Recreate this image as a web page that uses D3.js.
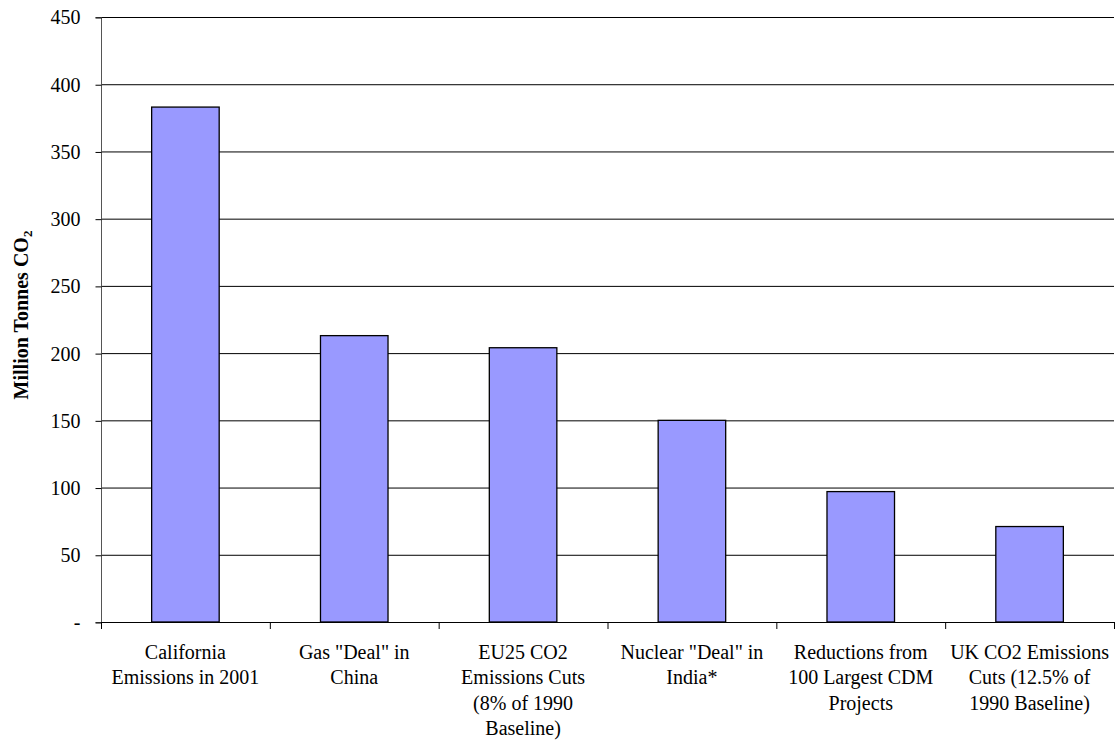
<!DOCTYPE html>
<html><head><meta charset="utf-8">
<script src="https://cdn.jsdelivr.net/npm/d3@7"></script>
<style>body{margin:0;background:#fff}</style>
</head><body><svg id="c" width="1119" height="740"></svg>
<script>
const categories = [
  ["California","Emissions in 2001"],
  ["Gas \"Deal\" in","China"],
  ["EU25 CO2","Emissions Cuts","(8% of 1990","Baseline)"],
  ["Nuclear \"Deal\" in","India*"],
  ["Reductions from","100 Largest CDM","Projects"],
  ["UK CO2 Emissions","Cuts (12.5% of","1990 Baseline)"]
];
const values = [383, 213, 204, 150, 97, 71];
const yTicks = [0,50,100,150,200,250,300,350,400,450];

const FONT = "'Liberation Serif', 'Times New Roman', Tinos, serif";
const svg = d3.select("#c");
const L=101, R=1114, T=17, B=622;
const x = d3.scaleBand().domain(d3.range(categories.length)).range([L,R]).paddingInner(0.6).paddingOuter(0.3);
const xb = d3.scaleBand().domain(d3.range(categories.length)).range([L,R]);
const y = d3.scaleLinear().domain([0,450]).range([B,T]);

// gridlines
svg.append("g").selectAll("line").data(yTicks.filter(d=>d>0)).join("line")
  .attr("x1",L).attr("x2",R).attr("y1",d=>y(d)+0.5).attr("y2",d=>y(d)+0.5)
  .attr("stroke","#000").attr("stroke-width",1);

// bars
svg.append("g").selectAll("rect").data(values).join("rect")
  .attr("x",(d,i)=>x(i)).attr("width",x.bandwidth())
  .attr("y",d=>y(d)).attr("height",d=>B-y(d))
  .attr("fill","#9999FF").attr("stroke","#000").attr("stroke-width",1.3);

// y axis
const ya = d3.axisLeft(y).tickValues(yTicks).tickSize(6).tickPadding(15)
  .tickFormat(d=>d===0?"-":d);
const gy = svg.append("g").attr("transform",`translate(${L+0.5},0.5)`).call(ya);
gy.attr("font-family",null).attr("font-size",null);
gy.select(".domain").attr("stroke","#555").attr("d",`M-6,${B}H0V${T}H-6`);
gy.selectAll(".tick line").attr("stroke","#000");
gy.selectAll(".tick text").style("font-family",FONT).style("font-size","20px").attr("fill","#000");

// x axis
const xa = d3.axisBottom(xb).tickValues([]).tickSize(0);
const gx = svg.append("g").attr("transform",`translate(0,${B+0.5})`).call(xa);
gx.select(".domain").attr("stroke","#000").attr("d",`M${L},0H${R}`);
svg.append("g").selectAll("line").data(d3.range(categories.length+1)).join("line")
  .attr("x1",i=>L+i*xb.bandwidth()+0.5).attr("x2",i=>L+i*xb.bandwidth()+0.5)
  .attr("y1",B).attr("y2",B+7).attr("stroke","#000");

// category labels
const lab = svg.append("g").selectAll("text").data(categories).join("text")
  .attr("x",(d,i)=>xb(i)+xb.bandwidth()/2).attr("y",659)
  .attr("text-anchor","middle").style("font-family",FONT).style("font-size","20px").attr("fill","#000");
lab.selectAll("tspan").data(d=>d).join("tspan")
  .attr("x",function(){return this.parentNode.getAttribute("x");})
  .attr("dy",(d,i)=>i===0?0:25.3).text(d=>d);

// y title
const yt = svg.append("text").attr("transform",`translate(28,315) rotate(-90)`)
  .attr("text-anchor","middle").style("font-family",FONT).style("font-size","20px")
  .attr("font-weight","bold").attr("fill","#000");
yt.append("tspan").text("Million Tonnes CO");
yt.append("tspan").text("2").style("font-size","13px").attr("dy",4);
</script></body></html>
